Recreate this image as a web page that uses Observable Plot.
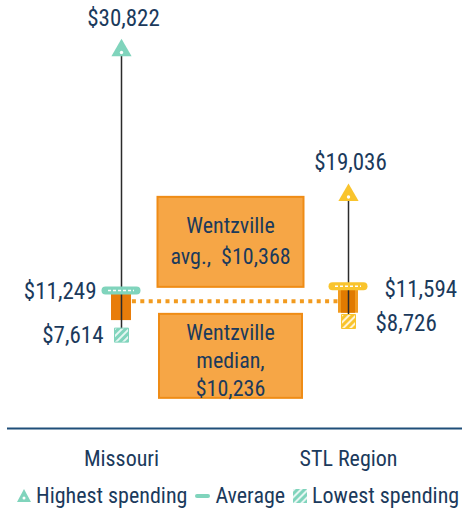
<!DOCTYPE html>
<html>
<head>
<meta charset="utf-8">
<script src="https://cdn.jsdelivr.net/npm/d3@7"></script>
<script src="https://cdn.jsdelivr.net/npm/@observablehq/plot@0.6"></script>
<style>
  body { margin: 0; background: #fff; }
  #chart { font-family: "Liberation Sans Narrow", "Roboto Condensed", "DejaVu Sans Condensed", sans-serif; }
  .legend { display: flex; align-items: center; gap: 6px; padding-left: 17px; height: 47px; margin-top: 0;
            font-size: 22px; color: #1b3a5c; white-space: nowrap; }
  .legend .item { display: flex; align-items: center; gap: 5px; margin-right: 2px; }
</style>
</head>
<body>
<div id="chart"></div>
<script>
// Per-pupil spending, Missouri districts vs. St. Louis region
const regions = ["Missouri", "STL Region"];
const highest = [30822, 19036];
const average = [11249, 11594];
const lowest = [7614, 8726];
const wentzvilleBandLow = [8800, 9400];
const wentzvilleBandHigh = [10950, 11250];
const wentzvilleAvg = 10368;
const wentzvilleMedian = 10236;

const regionColor = ["#80d4bc", "#f9c42d"];
const bandColor = ["#e87d0b", "#f29b1f"];
const textColor = "#1b3a5c";

const rows = regions.map((region, i) => ({
  region,
  high: highest[i],
  avg: average[i],
  low: lowest[i],
  bandLow: wentzvilleBandLow[i],
  bandHigh: wentzvilleBandHigh[i],
  color: regionColor[i],
  band: bandColor[i],
  hatch: `url(#hatch-${i})`
}));

const fmt = d3.format("$,");
const W = 462, H = 472;

const chart = Plot.plot({
  width: W,
  height: H,
  marginTop: 0,
  marginBottom: 44,
  marginLeft: 7,
  marginRight: 0,
  style: { fontFamily: "inherit", background: "transparent" },
  x: { type: "band", domain: regions, paddingInner: 0.912, paddingOuter: 0.456 },
  y: { domain: [0, 34900], axis: null },
  marks: [
    Plot.ruleY([0], { stroke: "#1f4e79", strokeWidth: 2 }),
    Plot.axisX({ tickSize: 0, tickPadding: 22, fontSize: 22, color: textColor, label: null }),
    // dotted Wentzville average line between the two groups
    Plot.link([wentzvilleAvg], {
      x1: () => regions[0], x2: () => regions[1], y1: d => d, y2: d => d,
      stroke: "#f29b1f", strokeWidth: 4, strokeDasharray: "4,4.4", strokeDashoffset: -2
    }),
    // Wentzville marker on each range
    Plot.barY(rows, { x: "region", y1: "bandLow", y2: "bandHigh", fill: "band" }),
    Plot.barY(rows.slice(1), { x: "region", y1: "bandLow", y2: "bandHigh", fill: "#e07a00", insetLeft: 3, insetRight: 3 }),
    // range from lowest to highest spending
    Plot.ruleX(rows, { x: "region", y1: "low", y2: "high", stroke: "#2b2b2b", strokeWidth: 1.5 }),
    // average marker
    Plot.tickY(rows, { x: "region", y: "avg", stroke: "color", strokeWidth: 8, strokeLinecap: "round", insetLeft: -5.5, insetRight: -5.5 }),
    Plot.tickY(rows, { x: "region", y: "avg", stroke: "white", strokeWidth: 1.5, strokeDasharray: "3,2", insetLeft: -3, insetRight: -3 }),
    // lowest spending
    Plot.dot(rows, { x: "region", y: "low", symbol: "square", r: 7.9, fill: "hatch", stroke: "color", strokeWidth: 1 }),
    // highest spending
    Plot.dot(rows, { x: "region", y: "high", symbol: "triangle", r: 7.5, fill: "color" }),
    Plot.dot(rows, { x: "region", y: "high", r: 1.7, fill: "white", dy: 2 }),
    // value labels
    Plot.text(rows, { x: "region", y: "high", text: d => fmt(d.high), dy: -32, dx: 2, fontSize: 23, fill: textColor }),
    Plot.text(rows.slice(0, 1), { x: "region", y: "avg", text: d => fmt(d.avg), dx: -25, dy: 1, textAnchor: "end", fontSize: 23, fill: textColor }),
    Plot.text(rows.slice(0, 1), { x: "region", y: "low", text: d => fmt(d.low), dx: -18, dy: 1, textAnchor: "end", fontSize: 23, fill: textColor }),
    Plot.text(rows.slice(1), { x: "region", y: "avg", text: d => fmt(d.avg), dx: 36, dy: 3, textAnchor: "start", fontSize: 23, fill: textColor }),
    Plot.text(rows.slice(1), { x: "region", y: "low", text: d => fmt(d.low), dx: 27, dy: 2, textAnchor: "start", fontSize: 23, fill: textColor })
  ]
});

// hatch patterns for the lowest-spending squares
const svg = d3.select(chart);
const defs = svg.insert("defs", ":first-child");
regionColor.forEach((c, i) => {
  const p = defs.append("pattern").attr("id", `hatch-${i}`)
    .attr("patternUnits", "userSpaceOnUse").attr("width", 5).attr("height", 5)
    .attr("patternTransform", "rotate(45)");
  p.append("rect").attr("width", 5).attr("height", 5).attr("fill", c);
  p.append("rect").attr("width", 2).attr("height", 5).attr("fill", "#ffffff").attr("opacity", 0.8);
});

// Wentzville callout boxes, anchored to the Wentzville average line
const yScale = chart.scale("y");
const yLine = yScale.apply(wentzvilleAvg);
const cx = (7 + W) / 2 - 4;
function callout(top, w, h, lines, firstLineOffset, lineGap) {
  const g = svg.append("g");
  g.append("rect").attr("x", cx - w / 2).attr("y", top).attr("width", w).attr("height", h)
    .attr("fill", "#f6a646").attr("stroke", "#ef8c16").attr("stroke-width", 2);
  lines.forEach((t, k) => {
    g.append("text").attr("x", cx).attr("y", top + firstLineOffset + k * lineGap)
      .attr("text-anchor", "middle").attr("dominant-baseline", "central")
      .attr("font-size", 22).attr("fill", textColor).attr("xml:space", "preserve").text(t);
  });
}
callout(yLine - 14 - 90, 146, 90, ["Wentzville", "avg.,  " + fmt(wentzvilleAvg)], 29, 31);
callout(yLine + 13, 143, 84, ["Wentzville", "median,", fmt(wentzvilleMedian)], 19, 28);

document.getElementById("chart").appendChild(chart);

// legend
const legend = document.createElement("div");
legend.className = "legend";
legend.innerHTML = `
  <span class="item"><svg width="14" height="13"><path d="M7,0L14,13H0Z" fill="${regionColor[0]}"/><circle cx="7" cy="9" r="1.5" fill="#fff"/></svg>Highest spending</span>
  <span class="item"><svg width="15" height="6"><rect x="0" y="1" width="15" height="4" rx="2" fill="${regionColor[0]}"/></svg>Average</span>
  <span class="item"><svg width="14" height="14"><rect width="14" height="14" fill="url(#hatch-0)"/></svg>Lowest spending</span>`;
document.getElementById("chart").appendChild(legend);
</script>
</body>
</html>
